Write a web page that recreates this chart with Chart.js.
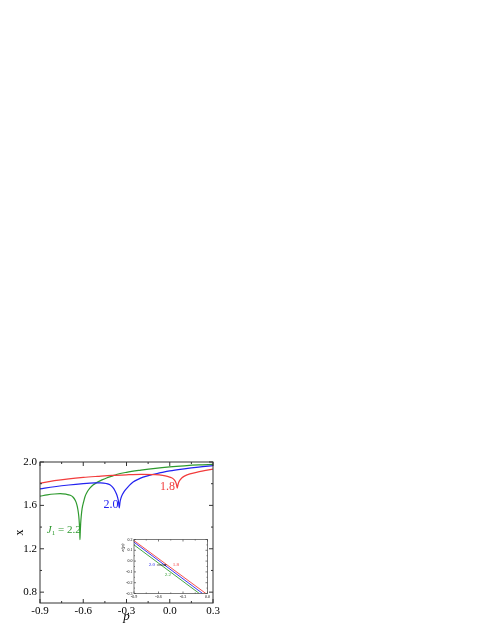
<!DOCTYPE html>
<html>
<head>
<meta charset="utf-8">
<script src="https://cdn.jsdelivr.net/npm/chart.js@4.4.1/dist/chart.umd.min.js"></script>
<style>
  body { margin: 0; background: #fff; }
  #wrap { position: relative; width: 491px; height: 635px; }
  #wrap canvas { position: absolute; left: 0; top: 0; }
</style>
</head>
<body>
<div id="wrap">
  <canvas id="main" width="491" height="635"></canvas>
  <canvas id="inset" width="491" height="635"></canvas>
</div>
<script>
// main panel, x(p) for three J1 values
const pRed = [-0.90, -0.80, -0.70, -0.60, -0.50, -0.40, -0.30, -0.20, -0.10, -0.05, -0.01, 0.012, 0.03, 0.04, 0.047, 0.052, 0.057, 0.063, 0.072, 0.085, 0.105, 0.14, 0.185, 0.24, 0.30];
const xRed = [1.805, 1.828, 1.845, 1.858, 1.868, 1.877, 1.882, 1.885, 1.883, 1.877, 1.865, 1.855, 1.838, 1.818, 1.792, 1.76, 1.79, 1.815, 1.835, 1.855, 1.872, 1.89, 1.905, 1.92, 1.935];

const pBlue = [-0.90, -0.80, -0.70, -0.60, -0.52, -0.48, -0.44, -0.415, -0.395, -0.38, -0.368, -0.36, -0.355, -0.35, -0.345, -0.34, -0.334, -0.32, -0.30, -0.28, -0.254, -0.22, -0.185, -0.13, -0.07, 0.00, 0.10, 0.20, 0.30];
const xBlue = [1.752, 1.772, 1.788, 1.80, 1.807, 1.808, 1.802, 1.79, 1.765, 1.735, 1.70, 1.665, 1.63, 1.577, 1.63, 1.66, 1.685, 1.72, 1.755, 1.785, 1.815, 1.84, 1.86, 1.882, 1.899, 1.918, 1.937, 1.953, 1.966];

const pGreen = [-0.90, -0.85, -0.80, -0.76, -0.72, -0.69, -0.67, -0.655, -0.645, -0.637, -0.631, -0.627, -0.624, -0.623, -0.621, -0.618, -0.614, -0.608, -0.598, -0.588, -0.57, -0.554, -0.53, -0.507, -0.47, -0.438, -0.40, -0.37, -0.30, -0.20, -0.10, 0.00, 0.10, 0.20, 0.30];
const xGreen = [1.685, 1.697, 1.705, 1.708, 1.703, 1.693, 1.675, 1.645, 1.61, 1.56, 1.50, 1.43, 1.35, 1.285, 1.35, 1.43, 1.50, 1.57, 1.63, 1.68, 1.73, 1.76, 1.79, 1.81, 1.835, 1.853, 1.87, 1.885, 1.905, 1.925, 1.942, 1.955, 1.965, 1.973, 1.978];

const mainXTicks = [-0.9, -0.6, -0.3, 0.0, 0.3];
const mainXMinor = [-0.75, -0.45, -0.15, 0.15];
const mainYTicks = [0.8, 1.2, 1.6, 2.0];
const mainYMinor = [1.0, 1.4, 1.8];

// inset, straight lines
const insetPRed = [-0.9, -0.02];
const insetERed = [0.19, -0.3];
const insetPBlue = [-0.9, -0.06];
const insetEBlue = [0.175, -0.3];
const insetPGreen = [-0.9, -0.10];
const insetEGreen = [0.15, -0.3];

const insetXTicks = [-0.9, -0.6, -0.3, 0.0];
const insetXMinor = [-0.75, -0.45, -0.15];
const insetYTicks = [-0.3, -0.2, -0.1, 0.0, 0.1, 0.2];
const insetYMinor = [-0.25, -0.15, -0.05, 0.05, 0.15];

const RED = '#f23c3c', BLUE = '#2222f0', GREEN = '#2e9a2e';
const SERIF = "'Liberation Serif', 'DejaVu Serif', serif";

function pts(xs, ys) {
    return xs.map(function(v, i) { return {x: v, y: ys[i]}; });
}

function fixTicks(list) {
    return function(scale) {
        scale.ticks = list.map(function(v) { return {value: v}; });
    };
}

// box + inward ticks on all four sides
const frameTicks = {
    id: 'frameTicks',
    beforeDatasetsDraw(chart, args, o) {
        if (!o.fill) return;
        const a = chart.chartArea, ctx = chart.ctx;
        ctx.save();
        ctx.fillStyle = o.fill;
        ctx.fillRect(a.left, a.top, a.right - a.left, a.bottom - a.top);
        ctx.restore();
    },
    afterDatasetsDraw(chart, args, o) {
        const ctx = chart.ctx, a = chart.chartArea;
        const sx = chart.scales.x, sy = chart.scales.y;
        ctx.save();
        ctx.strokeStyle = o.color;
        ctx.lineWidth = o.width;
        ctx.strokeRect(a.left, a.top, a.right - a.left, a.bottom - a.top);
        ctx.beginPath();
        function vt(v, len) {
            const px = sx.getPixelForValue(v);
            ctx.moveTo(px, a.bottom); ctx.lineTo(px, a.bottom - len);
            ctx.moveTo(px, a.top); ctx.lineTo(px, a.top + len);
        }
        function ht(v, len) {
            const py = sy.getPixelForValue(v);
            ctx.moveTo(a.left, py); ctx.lineTo(a.left + len, py);
            ctx.moveTo(a.right, py); ctx.lineTo(a.right - len, py);
        }
        o.xMajor.forEach(function(v) { vt(v, o.major); });
        o.xMinor.forEach(function(v) { vt(v, o.minor); });
        o.yMajor.forEach(function(v) { ht(v, o.major); });
        o.yMinor.forEach(function(v) { ht(v, o.minor); });
        ctx.stroke();
        ctx.restore();
    }
};

// text labels placed in data coordinates, axis titles relative to chart area
const textLabels = {
    id: 'textLabels',
    afterDraw(chart, args, o) {
        const ctx = chart.ctx, a = chart.chartArea;
        const sx = chart.scales.x, sy = chart.scales.y;
        ctx.save();
        ctx.textBaseline = 'middle';
        (o.items || []).forEach(function(it) {
            let px = sx.getPixelForValue(it.x), py = sy.getPixelForValue(it.y);
            ctx.fillStyle = it.color;
            let total = 0;
            it.parts.forEach(function(s) {
                ctx.font = s.font;
                total += ctx.measureText(s.t).width;
            });
            let cx = px - total / 2;
            ctx.textAlign = 'left';
            it.parts.forEach(function(s) {
                ctx.font = s.font;
                ctx.fillText(s.t, cx, py + (s.dy || 0));
                cx += ctx.measureText(s.t).width;
            });
        });
        if (o.arrow) {
            const r = o.arrow;
            const x1 = sx.getPixelForValue(r.x1), x2 = sx.getPixelForValue(r.x2);
            const y1 = sy.getPixelForValue(r.y);
            ctx.strokeStyle = '#000'; ctx.fillStyle = '#000'; ctx.lineWidth = 0.6;
            ctx.beginPath(); ctx.moveTo(x1, y1); ctx.lineTo(x2 - 1.5, y1); ctx.stroke();
            ctx.beginPath(); ctx.moveTo(x2, y1); ctx.lineTo(x2 - 2, y1 - 1); ctx.lineTo(x2 - 2, y1 + 1); ctx.closePath(); ctx.fill();
        }
        if (o.xTitle) {
            ctx.font = o.xTitle.font; ctx.fillStyle = '#000'; ctx.textAlign = 'center';
            ctx.fillText(o.xTitle.t, (a.left + a.right) / 2, a.bottom + o.xTitle.off);
        }
        if (o.yTitle) {
            ctx.font = o.yTitle.font; ctx.fillStyle = '#000'; ctx.textAlign = 'center';
            ctx.translate(a.left - o.yTitle.off, o.yTitle.y != null ? sy.getPixelForValue(o.yTitle.y) : (a.top + a.bottom) / 2);
            ctx.rotate(-Math.PI / 2);
            ctx.fillText(o.yTitle.t, 0, 0);
        }
        ctx.restore();
    }
};

new Chart(document.getElementById('main'), {
    type: 'line',
    data: {
        datasets: [
            {label: '1.8', data: pts(pRed, xRed), borderColor: RED},
            {label: '2.0', data: pts(pBlue, xBlue), borderColor: BLUE},
            {label: '2.2', data: pts(pGreen, xGreen), borderColor: GREEN}
        ]
    },
    options: {
        responsive: false,
        animation: false,
        layout: {padding: {left: 0, top: 462, right: 278, bottom: 0}},
        elements: {
            line: {borderWidth: 1.2, cubicInterpolationMode: 'monotone', fill: false},
            point: {radius: 0}
        },
        plugins: {
            legend: {display: false},
            tooltip: {enabled: false},
            frameTicks: {
                color: '#333', width: 1, major: 4, minor: 2,
                xMajor: mainXTicks, xMinor: mainXMinor, yMajor: mainYTicks, yMinor: mainYMinor
            },
            textLabels: {
                items: [
                    {x: -0.735, y: 1.373, color: GREEN, parts: [
                        {t: 'J', font: 'italic 11px ' + SERIF},
                        {t: '1', font: '7px ' + SERIF, dy: 3},
                        {t: ' = 2.2', font: '11px ' + SERIF}
                    ]},
                    {x: -0.408, y: 1.607, color: BLUE, parts: [{t: '2.0', font: '12px ' + SERIF}]},
                    {x: -0.015, y: 1.772, color: RED, parts: [{t: '1.8', font: '12px ' + SERIF}]}
                ],
                xTitle: {t: 'p', font: 'italic 13px ' + SERIF, off: 14},
                yTitle: {t: 'x', font: '12px ' + SERIF, off: 20}
            }
        },
        scales: {
            x: {
                type: 'linear', min: -0.9, max: 0.3,
                afterBuildTicks: fixTicks(mainXTicks),
                afterFit: function(s) { s.height = 32; },
                grid: {display: false, drawTicks: false},
                border: {display: false},
                ticks: {
                    padding: 2, maxRotation: 0, autoSkip: false, color: '#000',
                    font: {family: SERIF, size: 11},
                    callback: function(v) { return v.toFixed(1); }
                }
            },
            y: {
                type: 'linear', min: 0.7, max: 2.0,
                afterBuildTicks: fixTicks(mainYTicks),
                afterFit: function(s) { s.width = 40; },
                grid: {display: false, drawTicks: false},
                border: {display: false},
                ticks: {
                    padding: 3, autoSkip: false, color: '#000',
                    font: {family: SERIF, size: 11},
                    callback: function(v) { return v.toFixed(1); }
                }
            }
        }
    },
    plugins: [frameTicks, textLabels]
});

new Chart(document.getElementById('inset'), {
    type: 'line',
    data: {
        datasets: [
            {data: pts(insetPRed, insetERed), borderColor: RED},
            {data: pts(insetPBlue, insetEBlue), borderColor: BLUE},
            {data: pts(insetPGreen, insetEGreen), borderColor: GREEN}
        ]
    },
    options: {
        responsive: false,
        animation: false,
        layout: {padding: {left: 122, top: 539.5, right: 283.5, bottom: 33.5}},
        elements: {
            line: {borderWidth: 0.9, tension: 0, fill: false},
            point: {radius: 0}
        },
        plugins: {
            legend: {display: false},
            tooltip: {enabled: false},
            frameTicks: {
                fill: '#fff', color: '#444', width: 0.7, major: 2, minor: 1,
                xMajor: insetXTicks, xMinor: insetXMinor, yMajor: insetYTicks, yMinor: insetYMinor
            },
            textLabels: {
                items: [
                    {x: -0.68, y: -0.036, color: BLUE, parts: [{t: '2.0', font: '5px ' + SERIF}]},
                    {x: -0.386, y: -0.036, color: RED, parts: [{t: '1.8', font: '5px ' + SERIF}]},
                    {x: -0.484, y: -0.13, color: GREEN, parts: [{t: '2.2', font: '5px ' + SERIF}]}
                ],
                arrow: {x1: -0.62, x2: -0.50, y: -0.036},
                yTitle: {t: 'ε(p)', font: 'italic 5px ' + SERIF, off: 11, y: 0.125}
            }
        },
        scales: {
            x: {
                type: 'linear', min: -0.9, max: 0.0,
                afterBuildTicks: fixTicks(insetXTicks),
                afterFit: function(s) { s.height = 8; },
                grid: {display: false, drawTicks: false},
                border: {display: false},
                ticks: {
                    padding: 1, maxRotation: 0, autoSkip: false, color: '#000',
                    font: {family: SERIF, size: 4},
                    callback: function(v) { return v.toFixed(1); }
                }
            },
            y: {
                type: 'linear', min: -0.3, max: 0.2,
                afterBuildTicks: fixTicks(insetYTicks),
                afterFit: function(s) { s.width = 12; },
                grid: {display: false, drawTicks: false},
                border: {display: false},
                ticks: {
                    padding: 1.5, autoSkip: false, color: '#000',
                    font: {family: SERIF, size: 4},
                    callback: function(v) { return v.toFixed(1); }
                }
            }
        }
    },
    plugins: [frameTicks, textLabels]
});
</script>
</body>
</html>
